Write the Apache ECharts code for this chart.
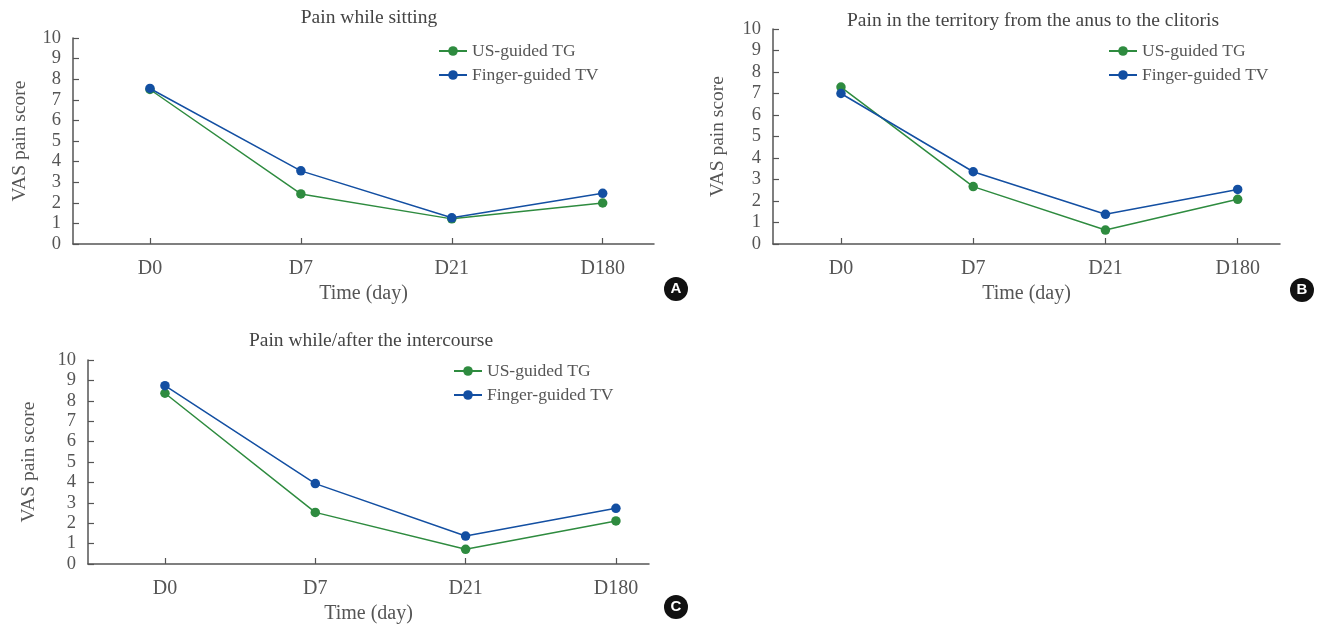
<!DOCTYPE html>
<html>
<head>
<meta charset="utf-8">
<script src="https://cdn.jsdelivr.net/npm/echarts@6/dist/echarts.min.js"></script>
<style>html,body{margin:0;padding:0;background:#fff}#c{width:1322px;height:625px}</style>
</head>
<body>
<div id="c"></div>
<script>
// ---- data ----
const categories = ['D0', 'D7', 'D21', 'D180'];
const seriesNames = ['US-guided TG', 'Finger-guided TV'];
const titles = ['Pain while sitting', 'Pain in the territory from the anus to the clitoris', 'Pain while/after the intercourse'];
const yTicks = [0, 1, 2, 3, 4, 5, 6, 7, 8, 9, 10];
const sittingTG = [7.5, 2.43, 1.22, 1.99];
const sittingTV = [7.55, 3.55, 1.27, 2.46];
const territoryTG = [7.3, 2.67, 0.65, 2.08];
const territoryTV = [7.0, 3.36, 1.38, 2.54];
const intercourseTG = [8.37, 2.53, 0.72, 2.11];
const intercourseTV = [8.74, 3.94, 1.37, 2.73];

const GREEN = '#2e8b3f';
const BLUE = '#134fa2';
const GREY = '#555';
const FONT = '"Liberation Serif", "DejaVu Serif", serif';

const panels = [
  {grid: {left: 73, top: 38, width: 581, height: 206}, xmin: -0.51, xmax: 3.34, yGap: 43,
   title: {x: 364, y: 3}, legend: {x: 438, y: 42}, tg: sittingTG, tv: sittingTV, letter: {t: 'A', x: 676, y: 289}},
  {grid: {left: 773, top: 29, width: 507, height: 215}, xmin: -0.514, xmax: 3.32, yGap: 45,
   title: {x: 1028, y: 6}, legend: {x: 1108, y: 42}, tg: territoryTG, tv: territoryTV, letter: {t: 'B', x: 1302, y: 290}},
  {grid: {left: 88, top: 360, width: 561, height: 204}, xmin: -0.512, xmax: 3.22, yGap: 49,
   title: {x: 366, y: 326}, legend: {x: 453, y: 362}, tg: intercourseTG, tv: intercourseTV, letter: {t: 'C', x: 676, y: 607}}
];

const option = {
  animation: false,
  backgroundColor: '#fff',
  title: [], legend: [], grid: [], xAxis: [], yAxis: [], series: [], graphic: []
};

panels.forEach((p, i) => {
  option.title.push({
    text: titles[i], left: p.title.x, top: p.title.y, textAlign: 'center',
    textStyle: {fontFamily: FONT, fontSize: 19.5, fontWeight: 'normal', color: '#444'}
  });
  option.legend.push({
    data: seriesNames, orient: 'vertical', left: p.legend.x, top: p.legend.y,
    itemWidth: 28, itemHeight: 12, itemGap: 6, padding: 0,
    textStyle: {fontFamily: FONT, fontSize: 17.5, color: GREY}
  });
  option.grid.push(Object.assign({containLabel: false}, p.grid));
  option.xAxis.push({
    type: 'value', gridIndex: i, min: p.xmin, max: p.xmax,
    name: 'Time (day)', nameLocation: 'middle', nameGap: 40,
    nameTextStyle: {fontFamily: FONT, fontSize: 20, color: GREY},
    splitLine: {show: false},
    axisLine: {show: true, onZero: false, lineStyle: {color: GREY, width: 1.5}},
    axisTick: {show: true, inside: true, length: 6, customValues: [0, 1, 2, 3], lineStyle: {color: GREY, width: 1.2}},
    axisLabel: {customValues: [0, 1, 2, 3], margin: 15, fontFamily: FONT, fontSize: 20, color: GREY,
      formatter: v => categories[Math.round(v)] || ''}
  });
  option.yAxis.push({
    type: 'value', gridIndex: i, min: yTicks[0], max: yTicks[yTicks.length - 1], interval: 1,
    name: 'VAS pain score', nameLocation: 'middle', nameGap: p.yGap,
    nameTextStyle: {fontFamily: FONT, fontSize: 19.5, color: GREY},
    splitLine: {show: false},
    axisLine: {show: true, onZero: false, lineStyle: {color: GREY, width: 1.5}},
    axisTick: {show: true, inside: true, length: 6, lineStyle: {color: GREY, width: 1.2}},
    axisLabel: {margin: 12, fontFamily: FONT, fontSize: 18.5, color: GREY, showMinLabel: true, showMaxLabel: true}
  });
  [[p.tg, GREEN, 0], [p.tv, BLUE, 1]].forEach(([vals, color, k]) => {
    option.series.push({
      type: 'line', name: seriesNames[k], xAxisIndex: i, yAxisIndex: i,
      data: vals.map((v, j) => [j, v]),
      symbol: 'circle', symbolSize: 9.5, color: color,
      lineStyle: {color: color, width: 1.5},
      itemStyle: {color: color},
      z: 2 + k
    });
  });
  option.graphic.push({
    type: 'group', x: p.letter.x, y: p.letter.y,
    children: [
      {type: 'circle', shape: {cx: 0, cy: 0, r: 12}, style: {fill: '#111'}},
      {type: 'text', style: {text: p.letter.t, x: 0, y: 0, align: 'center', verticalAlign: 'middle',
        fill: '#fff', font: 'bold 15px "Liberation Sans", Arial, sans-serif'}}
    ]
  });
});

const chart = echarts.init(document.getElementById('c'));
chart.setOption(option);
</script>
</body>
</html>
